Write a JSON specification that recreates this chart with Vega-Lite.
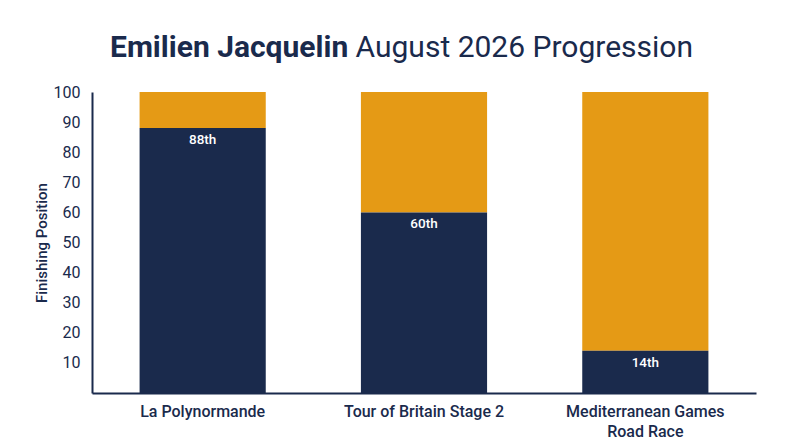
{
  "$schema": "https://vega.github.io/schema/vega-lite/v6.json",
  "width": 664,
  "height": 301,
  "autosize": "none",
  "padding": {"left": 92, "top": 92, "right": 44, "bottom": 54},
  "background": "white",
  "config": {
    "font": "Roboto",
    "view": {"stroke": null}
  },
  "title": {
    "text": "Emilien Jacquelin",
    "subtitle": "\u200b\u00a0\u00a0\u00a0\u00a0\u00a0\u00a0\u00a0\u00a0\u00a0\u00a0\u00a0\u00a0\u00a0\u00a0\u00a0\u00a0\u00a0\u00a0\u00a0\u00a0\u00a0\u00a0\u00a0\u00a0\u00a0\u00a0\u00a0\u00a0\u00a0\u00a0\u00a0\u00a0\u00a0August 2026 Progression",
    "anchor": "start",
    "frame": "group",
    "dx": 18,
    "fontSize": 30,
    "fontWeight": "bold",
    "color": "#1a2a4c",
    "subtitleFontSize": 30,
    "subtitleFontWeight": "normal",
    "subtitleColor": "#1a2a4c",
    "subtitlePadding": -30,
    "font": "Roboto",
    "subtitleFont": "Roboto",
    "offset": 21
  },
  "data": {
    "values": [
      {"race": "La Polynormande", "position": 88, "label": "88th"},
      {"race": "Tour of Britain Stage 2", "position": 60, "label": "60th"},
      {"race": "Mediterranean Games Road Race", "position": 14, "label": "14th"}
    ]
  },
  "encoding": {
    "x": {
      "field": "race",
      "type": "nominal",
      "sort": null,
      "scale": {"paddingInner": 0.43, "paddingOuter": 0.215},
      "axis": {
        "title": null,
        "labelAngle": 0,
        "labelFontSize": 16,
        "labelFontWeight": 500,
        "labelColor": "#1a2a4c",
        "labelPadding": 10,
        "labelLineHeight": 20,
        "ticks": false,
        "domainColor": "#1a2a4c",
        "domainWidth": 2,
        "labelExpr": "datum.label == 'Mediterranean Games Road Race' ? ['Mediterranean Games', 'Road Race'] : datum.label"
      }
    },
    "y": {
      "field": "position",
      "type": "quantitative",
      "scale": {"domain": [0, 100]},
      "axis": {
        "title": "Finishing Position",
        "titleFontSize": 15,
        "titleFontWeight": 500,
        "titleColor": "#1a2a4c",
        "titlePadding": 4,
        "values": [10, 20, 30, 40, 50, 60, 70, 80, 90, 100],
        "labelOverlap": false,
        "labelFontSize": 16,
        "labelColor": "#1a2a4c",
        "labelPadding": 12,
        "ticks": false,
        "grid": false,
        "domainColor": "#1a2a4c",
        "domainWidth": 2
      }
    }
  },
  "layer": [
    {
      "mark": {"type": "bar", "color": "#e59a15"},
      "encoding": {
        "y2": {"datum": 100}
      }
    },
    {
      "mark": {"type": "bar", "color": "#1a2a4c"}
    },
    {
      "mark": {
        "type": "text",
        "color": "white",
        "fontSize": 13.5,
        "fontWeight": 500,
        "baseline": "top",
        "dy": 5
      },
      "encoding": {
        "text": {"field": "label"}
      }
    }
  ]
}
